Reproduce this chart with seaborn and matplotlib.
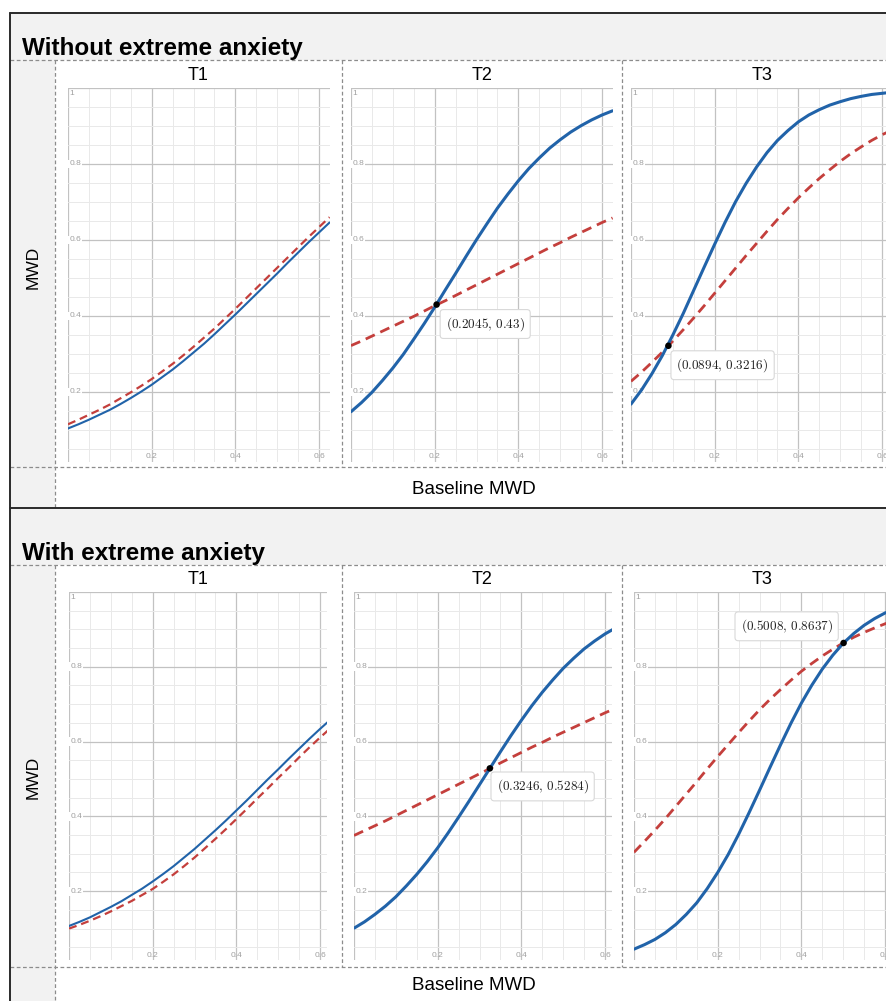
import matplotlib
matplotlib.use("Agg")
import matplotlib.pyplot as plt
import seaborn as sns
from matplotlib.patches import Rectangle

# baseline MWD values (x axis) shared by all curves
baseline = [0.0, 0.025, 0.05, 0.075, 0.10, 0.125, 0.15, 0.175, 0.20, 0.225, 0.25, 0.275, 0.30,
            0.325, 0.35, 0.375, 0.40, 0.425, 0.45, 0.475, 0.50, 0.525, 0.55, 0.575, 0.60, 0.625]

# without extreme anxiety: solid (blue) and dashed (red) curves
no_anx_t1_solid = [0.104, 0.115, 0.127, 0.140, 0.153, 0.168, 0.184, 0.201, 0.219, 0.239, 0.259, 0.281, 0.304,
                   0.327, 0.352, 0.378, 0.404, 0.431, 0.458, 0.485, 0.512, 0.540, 0.567, 0.594, 0.620, 0.646]
no_anx_t1_dashed = [0.115, 0.127, 0.140, 0.153, 0.167, 0.183, 0.199, 0.216, 0.234, 0.254, 0.274, 0.296, 0.319,
                    0.343, 0.367, 0.393, 0.419, 0.446, 0.473, 0.500, 0.527, 0.554, 0.581, 0.608, 0.634, 0.660]
no_anx_t2_solid = [0.148, 0.172, 0.199, 0.230, 0.263, 0.299, 0.339, 0.380, 0.423, 0.468, 0.512, 0.557, 0.601,
                   0.643, 0.684, 0.721, 0.756, 0.788, 0.816, 0.842, 0.864, 0.884, 0.901, 0.916, 0.929, 0.940]
no_anx_t2_dashed = [0.322, 0.334, 0.347, 0.360, 0.373, 0.386, 0.399, 0.413, 0.427, 0.440, 0.454, 0.468, 0.482,
                    0.496, 0.510, 0.524, 0.538, 0.552, 0.566, 0.580, 0.593, 0.607, 0.620, 0.633, 0.646, 0.658]
no_anx_t3_solid = [0.168, 0.205, 0.248, 0.296, 0.350, 0.407, 0.468, 0.529, 0.589, 0.647, 0.701, 0.749, 0.792,
                   0.830, 0.862, 0.888, 0.911, 0.929, 0.943, 0.955, 0.964, 0.972, 0.978, 0.983, 0.986, 0.989]
no_anx_t3_dashed = [0.228, 0.252, 0.278, 0.305, 0.334, 0.364, 0.395, 0.427, 0.460, 0.493, 0.526, 0.559, 0.591,
                    0.623, 0.654, 0.683, 0.711, 0.737, 0.762, 0.785, 0.807, 0.827, 0.845, 0.862, 0.877, 0.890]

# with extreme anxiety
anx_t1_solid = [0.107, 0.118, 0.130, 0.144, 0.158, 0.173, 0.190, 0.207, 0.226, 0.246, 0.267, 0.290, 0.313,
                0.338, 0.363, 0.389, 0.416, 0.443, 0.471, 0.499, 0.526, 0.554, 0.581, 0.608, 0.634, 0.659]
anx_t1_dashed = [0.100, 0.110, 0.121, 0.133, 0.146, 0.160, 0.174, 0.190, 0.206, 0.225, 0.245, 0.267, 0.290,
                 0.315, 0.340, 0.366, 0.393, 0.420, 0.448, 0.475, 0.503, 0.530, 0.558, 0.585, 0.611, 0.636]
anx_t2_solid = [0.101, 0.118, 0.138, 0.160, 0.185, 0.214, 0.245, 0.279, 0.316, 0.356, 0.398, 0.441, 0.485,
                0.529, 0.573, 0.616, 0.657, 0.696, 0.732, 0.765, 0.796, 0.823, 0.848, 0.869, 0.888, 0.904]
anx_t2_dashed = [0.349, 0.362, 0.375, 0.388, 0.402, 0.416, 0.430, 0.444, 0.458, 0.472, 0.486, 0.500, 0.514,
                 0.528, 0.543, 0.557, 0.571, 0.585, 0.598, 0.612, 0.625, 0.638, 0.651, 0.664, 0.677, 0.689]
anx_t3_solid = [0.045, 0.057, 0.071, 0.089, 0.111, 0.138, 0.169, 0.207, 0.250, 0.298, 0.352, 0.410, 0.470,
                0.531, 0.591, 0.649, 0.703, 0.751, 0.794, 0.831, 0.863, 0.889, 0.911, 0.929, 0.944, 0.955]
anx_t3_dashed = [0.304, 0.333, 0.363, 0.394, 0.427, 0.460, 0.493, 0.527, 0.560, 0.592, 0.624, 0.655, 0.685,
                 0.713, 0.739, 0.764, 0.788, 0.809, 0.829, 0.847, 0.864, 0.879, 0.892, 0.904, 0.915, 0.925]

# intersection points (None = no marked point)
no_anx_cross = [None, (0.2045, 0.43), (0.0894, 0.3216)]
anx_cross = [None, (0.3246, 0.5284), (0.5008, 0.8637)]

time_labels = ["T1", "T2", "T3"]
section_titles = ["Without extreme anxiety", "With extreme anxiety"]
x_tick_vals = [0.2, 0.4, 0.6]
y_tick_vals = [0.2, 0.4, 0.6, 0.8]

BLUE = "#2163a9"
RED = "#c43f3c"
GRAY_BG = "#f2f2f2"
DASH_GRAY = "#8c8c8c"

W, H = 887, 1001
sns.set_theme(style="white")
plt.rcParams["font.family"] = ["Liberation Sans", "DejaVu Sans"]
plt.rcParams["text.color"] = "black"

fig = plt.figure(figsize=(W / 100, H / 100), dpi=100)
bg = fig.add_axes([0, 0, 1, 1], zorder=-5)
bg.set_xlim(0, W)
bg.set_ylim(H, 0)
bg.axis("off")

# section layout in pixels: (band top, dashed top, panel bottom, section bottom)
sections = [(13, 60, 467, 508), (508, 565, 967, 1001)]

for (band_top, dash_top, panel_bot, sec_bot), title in zip(sections, section_titles):
    bg.add_patch(Rectangle((10, band_top), W - 10, dash_top - band_top, color=GRAY_BG, lw=0))
    bg.add_patch(Rectangle((10, dash_top), 45, sec_bot - dash_top, color=GRAY_BG, lw=0))
    bg.text(22, dash_top - 5, title, fontsize=17.5, fontweight="bold", ha="left", va="baseline",
            color="black")
    for yy in (dash_top, panel_bot):
        bg.plot([10, W], [yy, yy], color=DASH_GRAY, lw=0.9, ls=(0, (3, 2)))
    bg.plot([55, 55], [dash_top, sec_bot], color=DASH_GRAY, lw=0.9, ls=(0, (3, 2)))
    for xx in (342, 622):
        bg.plot([xx, xx], [dash_top, panel_bot], color=DASH_GRAY, lw=0.9, ls=(0, (3, 2)))
    bg.text(474, (panel_bot + sec_bot) / 2 + 2, "Baseline MWD", fontsize=13.5, ha="center",
            va="center", color="black")

bg.text(33, 267, "MWD", fontsize=12.5, rotation=90, ha="center", va="center", color="black")
bg.text(33, 777, "MWD", fontsize=12.5, rotation=90, ha="center", va="center", color="black")

# frame lines
bg.plot([10, W], [13, 13], color="#2a2a2a", lw=1.4)
bg.plot([10, W], [508, 508], color="#2a2a2a", lw=1.4)
bg.plot([10, 10], [13, H], color="#2a2a2a", lw=1.4)

panel_titles_y = [75, 579]
panel_centers = [198, 482, 762]
for ty in panel_titles_y:
    for cx, lab in zip(panel_centers, time_labels):
        bg.text(cx, ty, lab, fontsize=13, ha="center", va="center", color="black")

# axes geometry in pixels: lefts, width, top, bottom, ylim
rows = [
    dict(lefts=[68, 351, 631], width=262, top=88, bottom=462, ylim=(0.0157, 0.9955),
         solid=[no_anx_t1_solid, no_anx_t2_solid, no_anx_t3_solid],
         dashed=[no_anx_t1_dashed, no_anx_t2_dashed, no_anx_t3_dashed],
         cross=no_anx_cross, offsets=[None, (35, -14), (39, -14)]),
    dict(lefts=[69, 354, 634], width=258, top=592, bottom=960, ylim=(0.016, 0.997),
         solid=[anx_t1_solid, anx_t2_solid, anx_t3_solid],
         dashed=[anx_t1_dashed, anx_t2_dashed, anx_t3_dashed],
         cross=anx_cross, offsets=[None, (38, -13), (-41, 12)]),
]

for row in rows:
    for i in range(3):
        left = row["lefts"][i]
        ax = fig.add_axes([left / W, 1 - row["bottom"] / H, row["width"] / W,
                           (row["bottom"] - row["top"]) / H])
        ax.set_xlim(0, row["width"] / 418.5)
        ax.set_ylim(*row["ylim"])
        ax.set_xticks([0, 0.2, 0.4, 0.6])
        ax.set_xticks([k * 0.05 for k in range(13)], minor=True)
        ax.set_yticks([0.2, 0.4, 0.6, 0.8, 1.0])
        ax.set_yticks([k * 0.05 for k in range(1, 21)], minor=True)
        ax.grid(which="minor", color="#e9e9e9", lw=0.7)
        ax.grid(which="major", color="#c2c2c2", lw=0.9)
        ax.tick_params(which="both", length=0, labelleft=False, labelbottom=False)
        for s in ax.spines.values():
            s.set_visible(False)
        ax.set_facecolor("white")

        lw_solid = 1.5 if i == 0 else 2.2
        lw_dash = 1.6 if i == 0 else 2.0
        sns.lineplot(x=baseline, y=row["dashed"][i], ax=ax, color=RED, lw=lw_dash,
                     linestyle=(0, (3.6, 2.2)), zorder=4)
        sns.lineplot(x=baseline, y=row["solid"][i], ax=ax, color=BLUE, lw=lw_solid, zorder=5,
                     solid_joinstyle="round", solid_capstyle="round")
        ax.set_xlabel("")
        ax.set_ylabel("")

        y0 = row["ylim"][0]
        for v in x_tick_vals:
            ax.text(v, y0 + 0.004, f"{v:g}", fontsize=6, color="#a0a0a0",
                    ha="center", va="bottom", zorder=2)
        for v in y_tick_vals:
            ax.text(0.003, v, f"{v:g}", fontsize=6, color="#a0a0a0", ha="left", va="center",
                    zorder=2, bbox=dict(fc="white", ec="none", pad=0.6))
        ax.text(0.003, 0.985, "1", fontsize=6, color="#a0a0a0", ha="left", va="center", zorder=2)

        pt = row["cross"][i]
        if pt is not None:
            sns.scatterplot(x=[pt[0]], y=[pt[1]], ax=ax, color="black", s=22, zorder=7,
                            edgecolor="none")
            ax.annotate(rf"$({pt[0]},\,{pt[1]})$", xy=pt, xytext=row["offsets"][i],
                        textcoords="offset points", ha="center", va="center",
                        fontsize=9.5, math_fontfamily="cm", color="#222222", zorder=8,
                        bbox=dict(boxstyle="round,pad=0.42,rounding_size=0.25",
                                  fc="white", ec="#d8d8d8", lw=0.8))

fig.savefig("out.png", dpi=100)
